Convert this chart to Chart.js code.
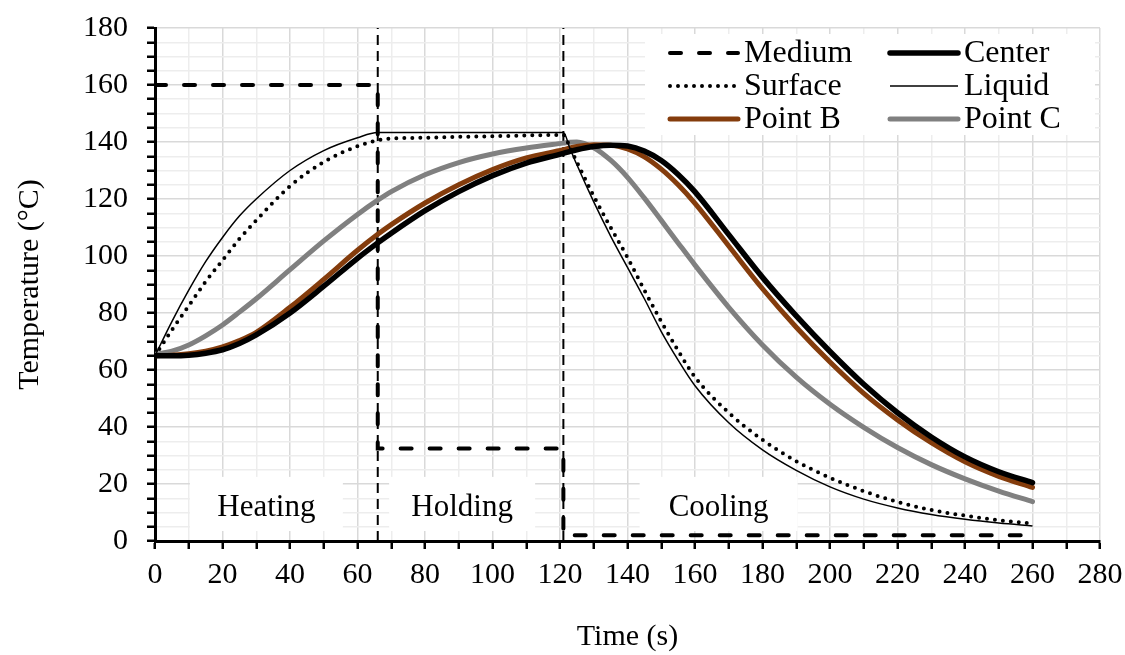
<!DOCTYPE html>
<html lang="en">
<head>
<meta charset="UTF-8">
<title>Temperature history</title>
<style>
  body { margin: 0; background: #fff; }
  #wrap { width: 1125px; height: 655px; }
</style>
</head>
<body>
<div id="wrap"><canvas id="tempChart" width="1125" height="655"></canvas></div>
<script src="https://cdn.jsdelivr.net/npm/chart.js@4"></script>
<script>
// time points (s) shared by the product / liquid curves
const timeS   = [0, 5, 10, 15, 20, 25, 30, 40, 50, 60, 66, 70, 80, 90, 100, 110, 121, 123, 125, 130, 135, 140, 145, 150, 155, 160, 170, 180, 190, 200, 210, 220, 230, 240, 250, 260];
const center  = [65, 65, 65.2, 65.9, 67.1, 69.3, 72.3, 80, 89.4, 99.2, 104.6, 108, 115.9, 122.6, 128.2, 132.6, 136, 136.7, 137.3, 138.4, 138.9, 138.6, 136.8, 133.5, 128.6, 122.5, 107.5, 92.5, 79, 66.5, 55, 45, 36.5, 29.5, 24.3, 20.5];
const pointB  = [65, 65.2, 65.7, 66.6, 68.1, 70.3, 73.2, 82, 91.8, 102, 107.6, 111, 118.6, 125, 130.3, 134.4, 137.3, 137.9, 138.4, 139, 138.9, 137.6, 134.8, 130.5, 125, 118.5, 103.5, 88.5, 75, 62.8, 51.8, 42.5, 34.5, 27.8, 22.7, 18.8];
const pointC  = [65.5, 66.6, 68.8, 72, 75.8, 80.3, 85, 95.2, 105.3, 114.6, 119.6, 122.6, 128.5, 132.8, 135.8, 137.9, 139.6, 139.9, 140, 138, 133.6, 127.6, 120.3, 112.5, 104.6, 96.8, 82, 68.8, 57.5, 48, 39.9, 32.8, 26.8, 21.8, 17.5, 13.8];
const surface = [65, 74, 82.5, 91, 98.5, 106, 112.5, 124.5, 133, 138.5, 140.6, 141.2, 141.5, 141.8, 142, 142.3, 142.5, 138, 133, 121, 110, 99.5, 88, 77, 66.8, 57.5, 45, 35.5, 28, 22.2, 17.5, 13.7, 10.9, 8.9, 7.3, 6.1];
const liquid  = [65, 77, 88, 98, 106.5, 114, 120, 130, 137, 141.5, 143.3, 143.3, 143.3, 143.3, 143.3, 143.3, 143.3, 137.6, 132, 119, 107, 96, 85, 73.5, 63.5, 54.5, 41.5, 32, 24.8, 19, 14.7, 11.6, 9.3, 7.6, 6.3, 5.3];

// heating medium (step profile)
const mediumTime = [0, 66, 66, 121, 121, 260];
const mediumTemp = [160, 160, 32.5, 32.5, 2, 2];

// phase boundaries (s) and names
const phaseEnds  = [66, 121];
const phaseNames = ['Heating', 'Holding', 'Cooling'];

const serif = "'Liberation Serif', 'Times New Roman', serif";

function pts(xs, ys) {
    return xs.map((x, i) => ({ x: x, y: ys[i] }));
}

// white boxes with the phase names
const phaseLabels = {
    id: 'phaseLabels',
    beforeDatasetsDraw(chart) {
        const ctx = chart.ctx;
        const xs = chart.scales.x;
        const ys = chart.scales.y;
        const spots = [{ cx: 33, w: 153 }, { cx: 91, w: 146 }, { cx: 167, w: 158 }];
        const top = ys.getPixelForValue(22.5);
        const bot = ys.getPixelForValue(3.5);
        ctx.save();
        ctx.font = '31px ' + serif;
        ctx.textAlign = 'center';
        ctx.textBaseline = 'middle';
        spots.forEach((s, i) => {
            const cx = xs.getPixelForValue(s.cx);
            ctx.fillStyle = '#fff';
            ctx.fillRect(cx - s.w / 2, top, s.w, bot - top);
            ctx.fillStyle = '#000';
            ctx.fillText(phaseNames[i], cx, (top + bot) / 2 + 4);
        });
        ctx.restore();
    }
};

// legend inside the plot, two columns
const innerLegend = {
    id: 'innerLegend',
    afterDatasetsDraw(chart) {
        const ctx = chart.ctx;
        const area = chart.chartArea;
        const items = chart.data.datasets.filter(d => d.label);
        ctx.save();
        ctx.fillStyle = '#fff';
        ctx.fillRect(area.right - 455, area.top + 6, 450, 101);
        ctx.font = '32px ' + serif;
        ctx.textBaseline = 'middle';
        ctx.textAlign = 'left';
        items.forEach((d, i) => {
            const col = Math.floor(i / 3);
            const row = i % 3;
            const x0 = area.right - 430 + col * 220;
            const y = area.top + 25 + row * 33;
            ctx.beginPath();
            ctx.setLineDash(d.borderDash || []);
            ctx.lineWidth = d.borderWidth;
            ctx.lineCap = d.borderCapStyle || 'butt';
            ctx.strokeStyle = d.borderColor;
            ctx.moveTo(x0, y);
            ctx.lineTo(x0 + 68, y);
            ctx.stroke();
            ctx.setLineDash([]);
            ctx.fillStyle = '#000';
            ctx.fillText(d.label, x0 + 74, y + 1);
        });
        ctx.restore();
    }
};

const curve = { pointRadius: 0, fill: false, cubicInterpolationMode: 'monotone' };

const ctx = document.getElementById('tempChart').getContext('2d');
const tempChart = new Chart(ctx, {
    type: 'line',
    data: {
        datasets: [
            { label: 'Medium', data: pts(mediumTime, mediumTemp), borderColor: '#000', borderWidth: 4,
              borderDash: [11, 18], borderCapStyle: 'round', pointRadius: 0, tension: 0, order: 0 },
            Object.assign({ label: 'Surface', data: pts(timeS, surface), borderColor: '#000', borderWidth: 4,
              borderDash: [0, 8], borderCapStyle: 'round', order: 2 }, curve),
            Object.assign({ label: 'Point B', data: pts(timeS, pointB), borderColor: '#843c0c', borderWidth: 5,
              borderCapStyle: 'round', order: 4 }, curve),
            Object.assign({ label: 'Center', data: pts(timeS, center), borderColor: '#000', borderWidth: 5.5,
              borderCapStyle: 'round', order: 3 }, curve),
            Object.assign({ label: 'Liquid', data: pts(timeS, liquid), borderColor: '#000', borderWidth: 1.5,
              order: 1 }, curve),
            Object.assign({ label: 'Point C', data: pts(timeS, pointC), borderColor: '#808080', borderWidth: 5,
              borderCapStyle: 'round', order: 5 }, curve),
            // phase separators
            { label: '', data: pts([phaseEnds[0], phaseEnds[0]], [0, 180]), borderColor: '#000', borderWidth: 2,
              borderDash: [10, 6], pointRadius: 0, tension: 0, order: 6 },
            { label: '', data: pts([phaseEnds[1], phaseEnds[1]], [0, 180]), borderColor: '#000', borderWidth: 2,
              borderDash: [10, 6], pointRadius: 0, tension: 0, order: 6 }
        ]
    },
    options: {
        responsive: false,
        animation: false,
        devicePixelRatio: 1,
        layout: { padding: { left: 0, right: 25, top: 28, bottom: 0 } },
        plugins: { legend: { display: false }, tooltip: { enabled: false } },
        scales: {
            x: {
                type: 'linear',
                min: 0,
                max: 280,
                afterFit: s => { s.height = 114; s.paddingLeft = 0; s.paddingRight = 0; },
                border: { color: '#000', width: 3 },
                grid: {
                    color: c => (c.tick && c.tick.value % 20 === 0) ? '#d9d9d9' : '#ededed',
                    lineWidth: 1.5,
                    tickColor: '#000',
                    tickWidth: 2.5,
                    tickLength: 8
                },
                ticks: {
                    stepSize: 10,
                    autoSkip: false,
                    maxRotation: 0,
                    padding: 8,
                    color: '#000',
                    font: { family: serif, size: 30 },
                    callback: v => v % 20 === 0 ? v : ''
                },
                title: {
                    display: true,
                    text: 'Time (s)',
                    color: '#000',
                    font: { family: serif, size: 30 },
                    padding: { top: 0, bottom: 0 }
                }
            },
            y: {
                min: 0,
                max: 180,
                afterFit: s => { s.width = 155; s.paddingTop = 0; s.paddingBottom = 0; },
                border: { color: '#000', width: 3 },
                grid: {
                    color: c => (c.tick && c.tick.value % 20 === 0) ? '#d9d9d9' : '#ededed',
                    lineWidth: 1.5,
                    tickColor: '#000',
                    tickWidth: 2.5,
                    tickLength: 8
                },
                ticks: {
                    stepSize: 5,
                    autoSkip: false,
                    padding: 19,
                    color: '#000',
                    font: { family: serif, size: 30 },
                    callback: v => v % 20 === 0 ? v : ''
                },
                title: {
                    display: true,
                    text: 'Temperature (°C)',
                    color: '#000',
                    font: { family: serif, size: 30 },
                    padding: { top: 12, bottom: 0 }
                }
            }
        }
    },
    plugins: [phaseLabels, innerLegend]
});
</script>
</body>
</html>
